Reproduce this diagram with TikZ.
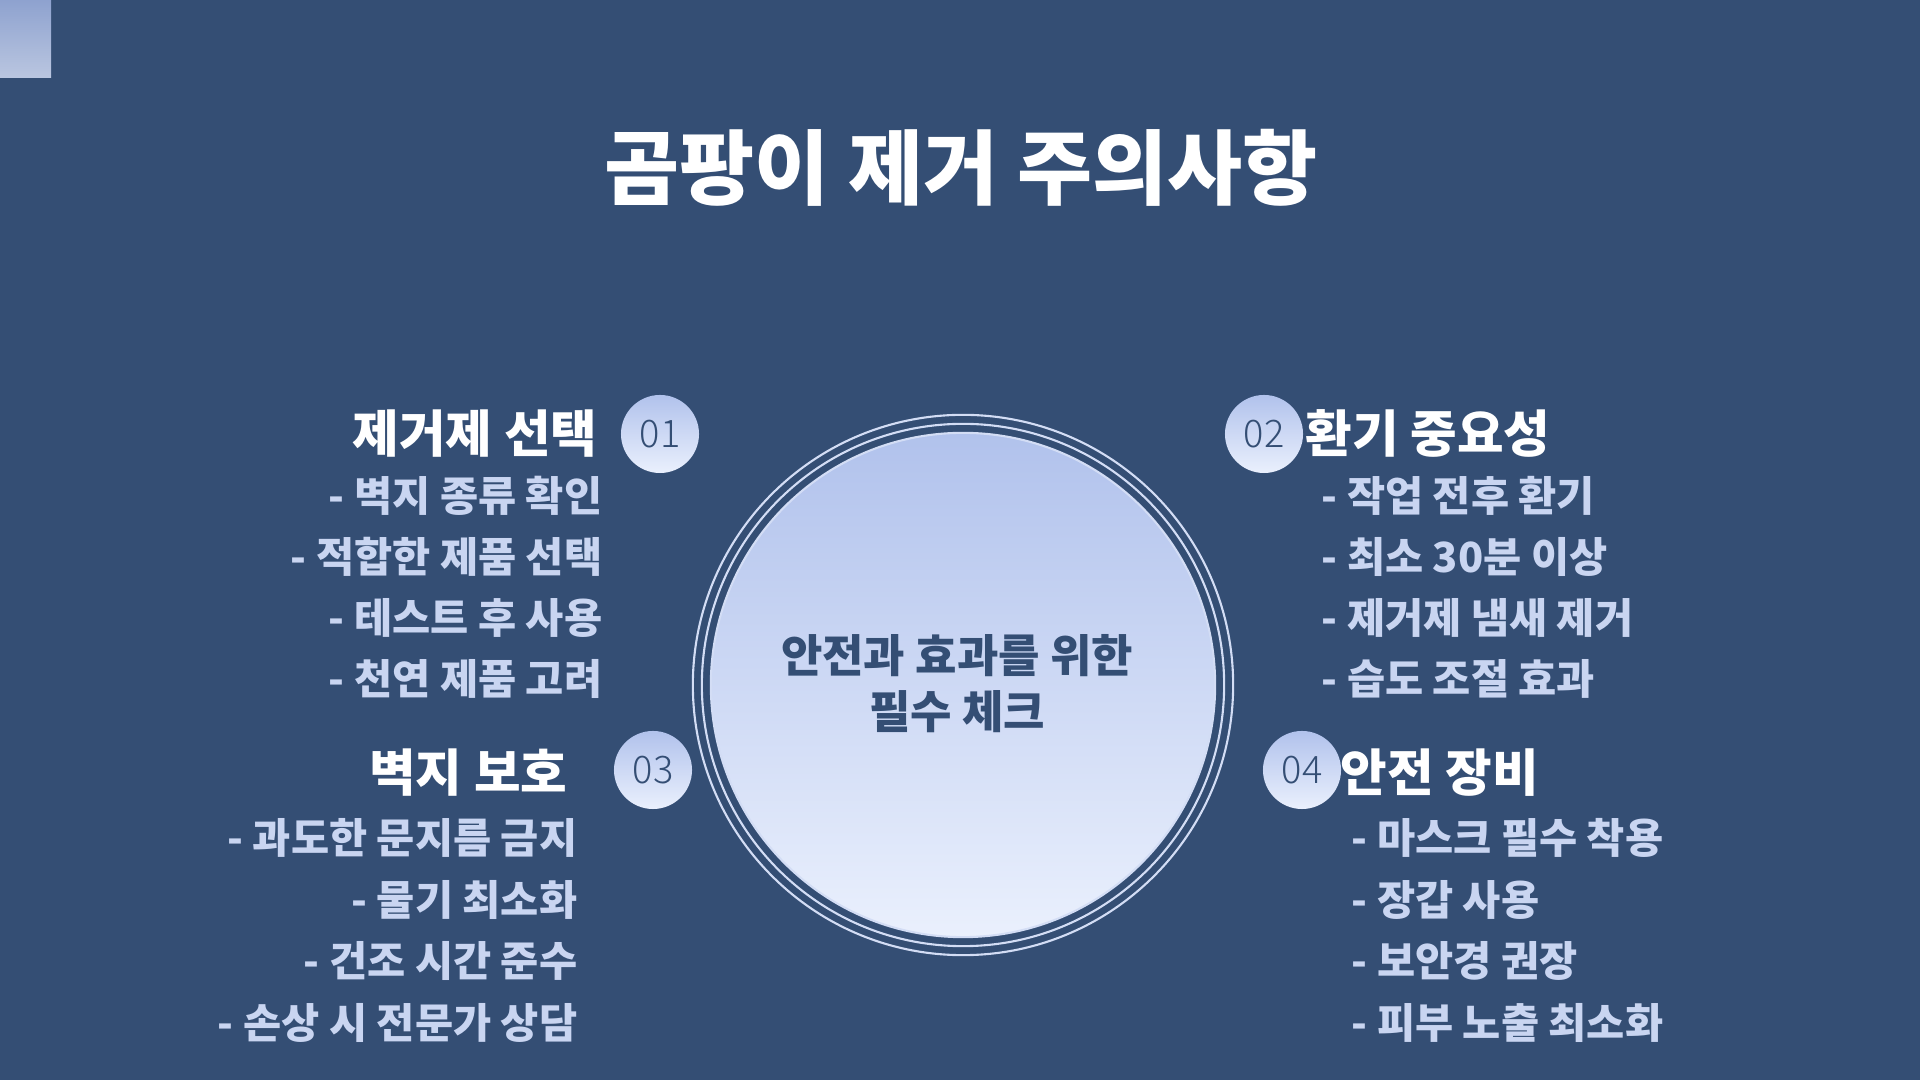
\documentclass[tikz,border=0pt]{standalone}
\usepackage{fontspec}
\setmainfont{Noto Sans CJK KR}
\newfontfamily\krmed{Noto Sans CJK KR Medium}
\newfontfamily\krlight{Noto Sans CJK KR Light}
\definecolor{bg}{HTML}{344E74}
\definecolor{sqtop}{HTML}{8EA2CF}
\definecolor{sqbot}{HTML}{BAC6E0}
\definecolor{gtop}{HTML}{B1C2EC}
\definecolor{gbot}{HTML}{EAF0FD}
\definecolor{ring}{HTML}{D3DDF5}
\definecolor{bullet}{HTML}{C9D5F1}
\definecolor{dark}{HTML}{344E74}
\tikzset{
  titletext/.style={font=\fontsize{23.2pt}{28pt}\selectfont\bfseries, text=white, inner sep=0},
  headtext/.style={font=\fontsize{14.4pt}{17pt}\selectfont\bfseries, text=white, inner sep=0},
  bultext/.style={font=\fontsize{11.8pt}{14pt}\selectfont\bfseries, text=bullet, inner sep=0},
  badge/.style={circle, minimum size=0.78cm, inner sep=0, top color=gtop, bottom color=gbot,
    font=\fontsize{10.8pt}{12pt}\selectfont\krlight, text=dark},
  hubstyle/.style={circle, minimum size=5.04cm, inner sep=0, top color=gtop, bottom color=gbot,
    draw=ring, line width=0.6pt},
  ringline/.style={draw=ring, line width=0.6pt},
  centertext/.style={font=\fontsize{12.8pt}{15.9pt}\selectfont\bfseries, text=dark, align=center, inner sep=0}
}
\begin{document}
\begin{tikzpicture}[x=0.01cm,y=-0.01cm]
\useasboundingbox (0,0) rectangle (1920,1080);
\fill[bg] (0,0) rectangle (1920,1080);
\shade[top color=sqtop, bottom color=sqbot] (0,0) rectangle (51,78);

% title
\node[titletext, anchor=base] (title) at (961,199) {곰팡이 제거 주의사항};

% hub
\node[hubstyle] (hub) at (963,685) {};
\draw[ringline] (hub.center) circle[radius=2.61cm];
\draw[ringline] (hub.center) circle[radius=2.70cm];
\node[centertext] (ctext) at (957,684) {안전과 효과를 위한\\필수 체크};

% badges
\node[badge] (b1) at (660,434) {01};
\node[badge] (b2) at (1264,434) {02};
\node[badge] (b3) at (653,770) {03};
\node[badge] (b4) at (1302,770) {04};

% section 01
\node[headtext, anchor=base east] (h1) at (598,453) {제거제 선택};
\node[bultext, anchor=base east] (s1a) at (603,512) {- 벽지 종류 확인};
\node[bultext, anchor=base east] (s1b) at (603,573) {- 적합한 제품 선택};
\node[bultext, anchor=base east] (s1c) at (603,634) {- 테스트 후 사용};
\node[bultext, anchor=base east] (s1d) at (603,695) {- 천연 제품 고려};

% section 02
\node[headtext, anchor=base west] (h2) at (1305,453) {환기 중요성};
\node[bultext, anchor=base west] (s2a) at (1321,512) {- 작업 전후 환기};
\node[bultext, anchor=base west] (s2b) at (1321,573) {- 최소 30분 이상};
\node[bultext, anchor=base west] (s2c) at (1321,634) {- 제거제 냄새 제거};
\node[bultext, anchor=base west] (s2d) at (1321,695) {- 습도 조절 효과};

% section 03
\node[headtext, anchor=base east] (h3) at (568,792) {벽지 보호};
\node[bultext, anchor=base east] (s3a) at (578,854) {- 과도한 문지름 금지};
\node[bultext, anchor=base east] (s3b) at (578,916) {- 물기 최소화};
\node[bultext, anchor=base east] (s3c) at (578,977) {- 건조 시간 준수};
\node[bultext, anchor=base east] (s3d) at (578,1039) {- 손상 시 전문가 상담};

% section 04
\node[headtext, anchor=base west] (h4) at (1340,792) {안전 장비};
\node[bultext, anchor=base west] (s4a) at (1351,854) {- 마스크 필수 착용};
\node[bultext, anchor=base west] (s4b) at (1351,916) {- 장갑 사용};
\node[bultext, anchor=base west] (s4c) at (1351,977) {- 보안경 권장};
\node[bultext, anchor=base west] (s4d) at (1351,1039) {- 피부 노출 최소화};
\end{tikzpicture}
\end{document}
